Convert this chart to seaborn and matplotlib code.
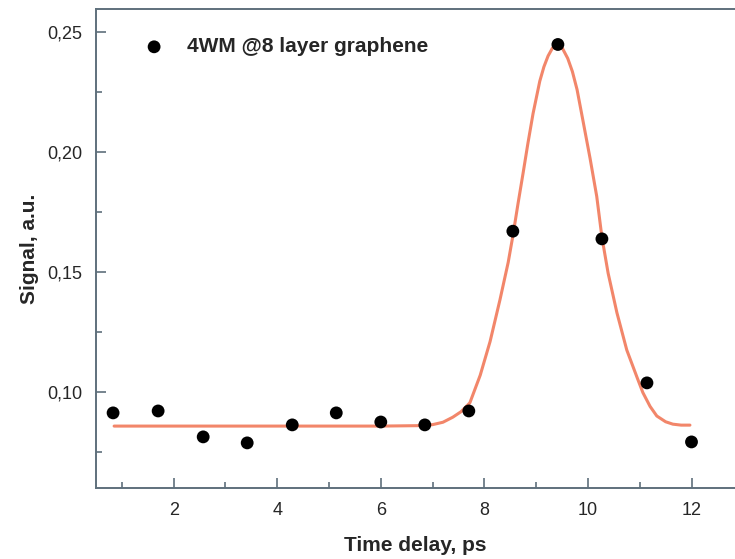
import matplotlib
matplotlib.use('Agg')
import matplotlib.pyplot as plt
import seaborn as sns
import pandas as pd
from matplotlib.ticker import MultipleLocator, FuncFormatter

# ===== Data =====
delay_ps = [0.83, 1.70, 2.57, 3.42, 4.29, 5.14, 6.00, 6.85,
            7.70, 8.55, 9.42, 10.27, 11.14, 12.00]
signal = [0.0913, 0.0921, 0.0813, 0.0788, 0.0863, 0.0913, 0.0875, 0.0863,
          0.0921, 0.1670, 0.2448, 0.1638, 0.1038, 0.0792]

# fitted curve, sampled along the drawn line
fit_x = [0.85, 2.0, 3.0, 4.0, 5.0, 6.0, 6.8, 7.0, 7.2, 7.39, 7.55, 7.72,
         7.92, 8.11, 8.30, 8.46, 8.55, 8.65, 8.75, 8.84, 8.94, 9.07, 9.15,
         9.23, 9.32, 9.40, 9.50, 9.61, 9.70, 9.79, 9.90, 10.04, 10.17,
         10.27, 10.39, 10.56, 10.75, 10.95, 11.06, 11.20, 11.33, 11.50,
         11.64, 11.80, 11.97]
fit_y = [0.0858, 0.0858, 0.0858, 0.0858, 0.0858, 0.0858, 0.0860, 0.0864,
         0.0874, 0.0895, 0.0918, 0.0955, 0.1070, 0.1210, 0.1383, 0.1540,
         0.1650, 0.1785, 0.1915, 0.2035, 0.2160, 0.2295, 0.2355, 0.2400,
         0.2435, 0.2446, 0.2435, 0.2390, 0.2335, 0.2260, 0.2135, 0.1975,
         0.1815, 0.1645, 0.1495, 0.1330, 0.1175, 0.1060, 0.0998, 0.0940,
         0.0900, 0.0876, 0.0866, 0.0862, 0.0862]

legend_label = '4WM @8 layer graphene'

points = pd.DataFrame({'delay': delay_ps, 'signal': signal})
curve = pd.DataFrame({'delay': fit_x, 'signal': fit_y})

sns.set_style('white')
plt.rcParams['font.family'] = ['Liberation Sans', 'DejaVu Sans']

fig = plt.figure(figsize=(7.35, 5.59), dpi=100)
ax = fig.add_axes([0.1306, 0.127, 0.8694, 0.857])

sns.lineplot(data=curve, x='delay', y='signal', ax=ax, color='#f2866a',
             linewidth=2.2, sort=False, legend=False,
             solid_joinstyle='round', solid_capstyle='round')
sns.scatterplot(data=points, x='delay', y='signal', ax=ax, color='black',
                s=85, edgecolor='none', label=legend_label, zorder=3)

ax.set_xlim(0.5, 12.84)
ax.set_ylim(0.06, 0.2596)

ax.xaxis.set_major_locator(MultipleLocator(2))
ax.xaxis.set_minor_locator(MultipleLocator(1))
ax.yaxis.set_major_locator(MultipleLocator(0.05))
ax.yaxis.set_minor_locator(MultipleLocator(0.025))
ax.yaxis.set_major_formatter(FuncFormatter(lambda v, p: f'{v:.2f}'.replace('.', ',')))

spine_col = '#5f707c'
for side in ['left', 'bottom', 'top']:
    ax.spines[side].set_color(spine_col)
    ax.spines[side].set_linewidth(1.4)
ax.spines['right'].set_visible(False)

ax.tick_params(which='both', direction='in', color=spine_col, width=1.2,
               top=False, right=False, bottom=True, left=True)
ax.tick_params(which='major', length=7, labelsize=13, pad=10)
ax.tick_params(which='minor', length=4)

ax.set_xlabel('Time delay, ps', fontsize=15, fontweight='bold', labelpad=12)
ax.set_ylabel('Signal, a.u.', fontsize=15, fontweight='bold', labelpad=6)

ax.legend(loc='upper left', frameon=False, bbox_to_anchor=(0.029, 0.98),
          handletextpad=0.6, prop={'weight': 'bold', 'size': 15})

fig.savefig('out.png', dpi=100)
